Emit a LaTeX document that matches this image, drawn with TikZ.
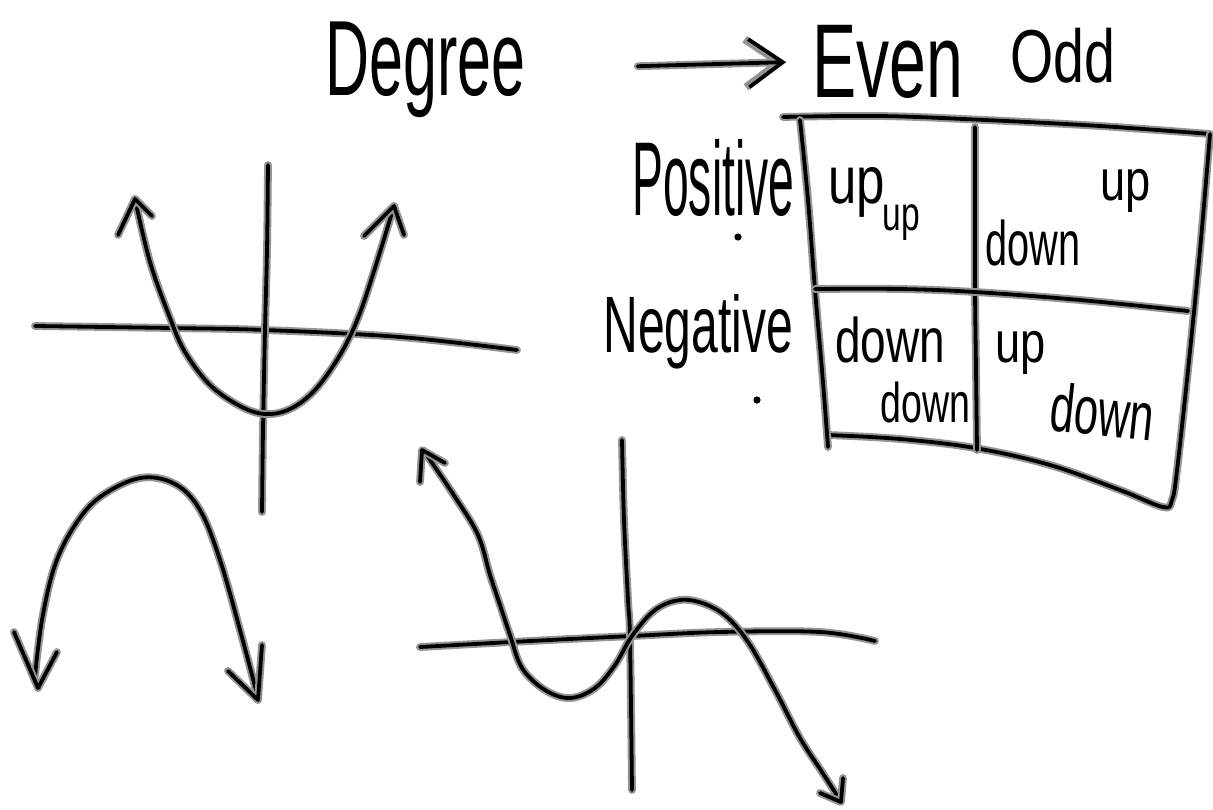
\documentclass[tikz,border=0pt]{standalone}
\usepackage{graphicx}
\usepackage{fontspec}
\setmainfont{Liberation Sans}
\usetikzlibrary{arrows.meta}
\newcommand{\hwtext}[3]{\fontsize{#2}{#2}\selectfont\scalebox{#1}[1]{#3}}
\tikzset{
  ink/.style={line width=1.9pt, line cap=round, line join=round, black,
    preaction={draw=black!42, line width=3.9pt, line cap=round, line join=round}},
  txt/.style={inner sep=0pt, anchor=base west, text=black},
  curve/.style={smooth, tension=0.6}
}
\begin{document}
\begin{tikzpicture}[x=0.5pt,y=-0.5pt]
\fill[white] (0,0) rectangle (1213,809);
\useasboundingbox (0,0) rectangle (1213,809);

% ---- headings
\node[txt] (deg) at (325,95) {\hwtext{0.57}{53.5pt}{Degree}};
\node[txt] (even) at (812,97) {\hwtext{0.63}{52.5pt}{Even}};
\node[txt] (odd) at (1010,82) {\hwtext{0.74}{37.5pt}{Odd}};
\draw[ink, -{Straight Barb[length=17pt, width=24pt]}, shorten <=56pt, shorten >=13pt] (deg.east) -- (even.west);

% ---- row labels
\node[txt] (pos) at (632,215) {\hwtext{0.44}{52.5pt}{Positive}};
\node[txt] (neg) at (603,352) {\hwtext{0.6}{40pt}{Negative}};
\fill (738,237) circle (1.8pt);
\fill (757,400) circle (1.8pt);

% ---- table
\draw[ink] plot[curve] coordinates {(783,117) (880,116) (985,120) (1100,126) (1210,134)};
\draw[ink] plot[curve] coordinates {(1210,134) (1200,250) (1188,370) (1177,470) (1172,500) (1163,507) (1120,490) (1050,465) (975,448) (900,439) (828,435)};
\draw[ink] plot[curve] coordinates {(800,120) (808,200) (815,290) (822,370) (828,447)};
\draw[ink] plot[curve] coordinates {(975,127) (975,210) (975,290) (976,370) (977,450)};
\draw[ink] plot[curve] coordinates {(815,289) (900,289) (975,292) (1080,300) (1188,311)};

% ---- cell texts
\node[txt] (c1a) at (828,203) {\hwtext{0.76}{33.5pt}{up}};
\node[txt] (c1b) at (882,230) {\hwtext{0.7}{24pt}{up}};
\node[txt] (c2a) at (1100,200) {\hwtext{0.78}{29pt}{up}};
\node[txt] (c2b) at (985,265) {\hwtext{0.63}{31.5pt}{down}};
\node[txt] (c3a) at (835,362) {\hwtext{0.73}{31.5pt}{down}};
\node[txt] (c3b) at (880,422) {\hwtext{0.67}{28pt}{down}};
\node[txt] (c4a) at (995,362) {\hwtext{0.78}{29pt}{up}};
\node[txt] (c4b) at (1048,430) {\rotatebox{-6}{\hwtext{0.64}{34pt}{down}}};

% ---- graph 1: upward parabola
\draw[ink] plot[curve] coordinates {(35,326) (170,328) (265,330) (400,337) (517,350)};
\draw[ink] plot[curve] coordinates {(268,165) (267,250) (265,330) (263,430) (262,512)};
\draw[ink] plot[curve] coordinates {(135,199) (150,262) (170,318) (185,352) (210,385) (240,406) (265,414) (290,409) (315,390) (340,355) (358,318) (375,268) (394,206)};
\draw[ink] (118,235) -- (135,199) -- (152,216);
\draw[ink] (364,236) -- (394,206) -- (404,235);

% ---- graph 2: downward parabola
\draw[ink] plot[curve] coordinates {(35,676) (42,620) (55,565) (75,525) (100,497) (140,478) (175,484) (200,510) (220,560) (240,630) (258,698)};
\draw[ink] (14,632) -- (38,688) -- (57,652);
\draw[ink] (228,671) -- (258,700) -- (262,645);

% ---- graph 3: cubic
\draw[ink] plot[curve] coordinates {(420,647) (530,641) (632,636) (720,632) (820,632) (875,641)};
\draw[ink] plot[curve] coordinates {(622,440) (624,520) (628,600) (630,640) (632,790)};
\draw[ink] plot[curve] coordinates {(424,451) (455,497) (478,535) (490,575) (500,605) (510,635) (522,668) (545,690) (570,698) (595,688) (615,665) (632,636) (655,610) (680,600) (705,604) (728,618) (750,645) (775,690) (800,738) (822,772) (840,800)};
\draw[ink] (420,482) -- (422,450) -- (445,463);
\draw[ink] (820,793) -- (841,802) -- (843,778);
\end{tikzpicture}
\end{document}
